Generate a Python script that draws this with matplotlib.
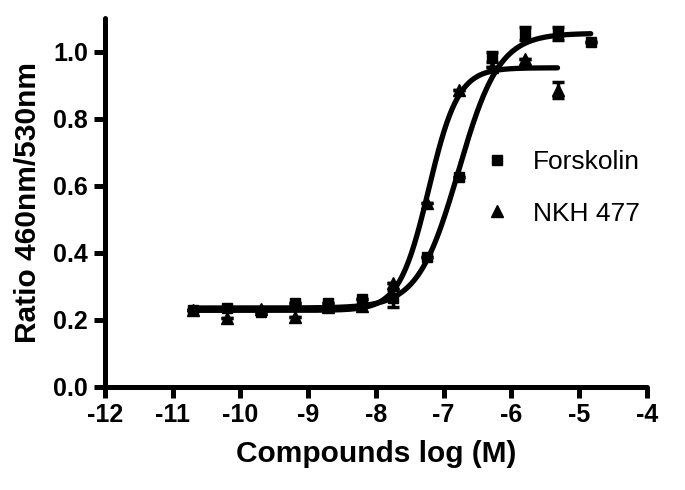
import numpy as np
import matplotlib
matplotlib.use("Agg")
import matplotlib.pyplot as plt
from matplotlib.lines import Line2D

# ---- data ----
fors_x = [-10.7, -10.2, -9.7, -9.2, -8.7, -8.2, -7.75, -7.25, -6.78, -6.28, -5.8, -5.32, -4.83]
fors_y = [0.229, 0.235, 0.224, 0.249, 0.249, 0.262, 0.264, 0.388, 0.627, 0.985, 1.055, 1.055, 1.030]
fors_err = [0, 0, 0, 0, 0, 0, 0.025, 0, 0, 0.015, 0.02, 0.02, 0]

nkh_x = [-10.7, -10.2, -9.7, -9.2, -8.7, -8.2, -7.75, -7.25, -6.78, -6.28, -5.8, -5.32]
nkh_y = [0.228, 0.204, 0.232, 0.209, 0.238, 0.242, 0.309, 0.547, 0.886, 0.955, 0.978, 0.886]
nkh_err = [0, 0, 0, 0, 0, 0, 0, 0, 0, 0, 0, 0.025]

# four-parameter logistic fit parameters (bottom, top, logEC50, hill)
fors_fit = (0.235, 1.055, -6.78, 1.45)
nkh_fit = (0.228, 0.952, -7.22, 2.0)

labels = ["Forskolin", "NKH 477"]
x_ticks = [-12, -11, -10, -9, -8, -7, -6, -5, -4]
y_ticks = [0.0, 0.2, 0.4, 0.6, 0.8, 1.0]


def logistic(x, p):
    b, t, ec, h = p
    return b + (t - b) / (1 + 10 ** ((ec - x) * h))


fig = plt.figure(figsize=(6.85, 4.9), dpi=100)
ax = fig.add_axes([0.153, 0.2108, 0.7915, 0.752])

lw = 3.8
for xs, ys, err, fit, mk, ms, lab in [
    (fors_x, fors_y, fors_err, fors_fit, "s", 7, labels[0]),
    (nkh_x, nkh_y, nkh_err, nkh_fit, "^", 8, labels[1]),
]:
    xx = np.linspace(min(xs), max(xs), 400)
    ax.plot(xx, logistic(xx, fit), color="black", lw=lw, solid_capstyle="round", zorder=2)
    ax.errorbar(xs, ys, yerr=err, fmt=mk, color="black", ms=ms, elinewidth=2.5,
                capsize=4.5, capthick=2.5, zorder=3, label=lab)

ax.set_xlim(-12, -4)
ax.set_ylim(0, 1.1)
ax.set_xticks(x_ticks)
ax.set_yticks(y_ticks)
ax.set_xticklabels([str(v) for v in x_ticks])
ax.set_yticklabels([f"{v:.1f}" for v in y_ticks])

for s in ["top", "right"]:
    ax.spines[s].set_visible(False)
for s in ["left", "bottom"]:
    ax.spines[s].set_linewidth(3.6)
    ax.spines[s].set_capstyle("round")

ax.tick_params(direction="out", length=8, width=3.6, pad=4)
for t in ax.get_xticklabels() + ax.get_yticklabels():
    t.set_fontfamily("Liberation Sans")
    t.set_fontweight("bold")
    t.set_fontsize(18)

ax.set_xlabel("Compounds log (M)", fontfamily="Liberation Sans", fontweight="bold",
              fontsize=21.5, labelpad=9)
ax.set_ylabel("Ratio 460nm/530nm", fontfamily="Liberation Sans", fontweight="bold",
              fontsize=21.5, labelpad=8)

h2 = [Line2D([], [], marker="s", ls="none", color="black", ms=7),
      Line2D([], [], marker="^", ls="none", color="black", ms=8)]
ax.legend(h2, labels, loc="upper left", bbox_to_anchor=(0.699, 0.642), frameon=False,
          prop={"family": "Liberation Sans", "size": 19}, handlelength=1.0,
          handletextpad=0.87, labelspacing=1.04, borderpad=0, borderaxespad=0)

fig.savefig("out.png", dpi=100)
